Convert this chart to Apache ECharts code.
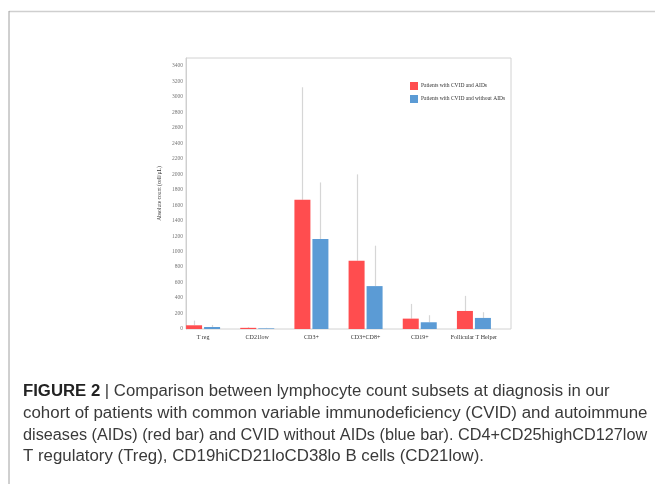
<!DOCTYPE html>
<html>
<head>
<meta charset="utf-8">
<script src="https://cdn.jsdelivr.net/npm/echarts@6/dist/echarts.min.js"></script>
<style>html,body{margin:0;padding:0;background:#fff;}#c{width:655px;height:484px;}</style>
</head>
<body>
<div id="c"></div>
<script>
var categories = ['T reg', 'CD21low', 'CD3+', 'CD3+CD8+', 'CD19+', 'Follicular T Helper'];
var seriesNames = ['Patients with CVID and AIDs', 'Patients with CVID and without AIDs'];
var aidsMean = [48, 15, 1669, 882, 134, 233];
var aidsUpper = [108, 25, 3122, 1997, 324, 428];
var noAidsMean = [26, 8, 1163, 554, 87, 143];
var noAidsUpper = [52, 15, 1893, 1076, 178, 217];
var yTicks = [0, 3500, 200];
var captionLines = [
  ['FIGURE 2', ' | Comparison between lymphocyte count subsets at diagnosis in our'],
  ['', 'cohort of patients with common variable immunodeficiency (CVID) and autoimmune'],
  ['', 'diseases (AIDs) (red bar) and CVID without AIDs (blue bar). CD4+CD25highCD127low'],
  ['', 'T regulatory (Treg), CD19hiCD21loCD38lo B cells (CD21low).']
];
var captionStretch = [1.046, 1.056, 1.015, 1.053];

var RED = '#FF4D4F', BLUE = '#5B9BD5';
var BW = 16, GAP = 2;
var serif = '"Liberation Serif", "DejaVu Serif", serif';
var sans = '"Liberation Sans", Arial, sans-serif';

function errSeries(upper, mean, sign) {
  return {
    type: 'custom', xAxisIndex: 0, yAxisIndex: 0, z: 1,
    data: categories.map(function (c, i) { return [i, mean[i], upper[i]]; }),
    renderItem: function (params, api) {
      var p0 = api.coord([api.value(0), api.value(1)]);
      var p1 = api.coord([api.value(0), api.value(2)]);
      var x = Math.round(p0[0] + sign * (BW + GAP) / 2) + 0.5;
      return { type: 'line', shape: { x1: x, y1: p0[1], x2: x, y2: p1[1] },
        style: { stroke: '#d6d6d6', lineWidth: 1.2 } };
    },
    silent: true, tooltip: { show: false }
  };
}

var graphics = [
  { type: 'line', shape: { x1: 9, y1: 11.5, x2: 655, y2: 11.5 }, style: { stroke: '#cfcfcf', lineWidth: 1.5 } },
  { type: 'line', shape: { x1: 9, y1: 11, x2: 9, y2: 484 }, style: { stroke: '#a0a0a0', lineWidth: 1 } }
];
captionLines.forEach(function (ln, i) {
  var y = 396.5 + i * 21.8;
  var rich = { b: { fontWeight: 'bold', fontSize: 16, fontFamily: sans, fill: '#222' },
               n: { fontSize: 16, fontFamily: sans, fill: '#3a3a3a' } };
  var txt = (ln[0] ? '{b|' + ln[0] + '}' : '') + '{n|' + ln[1] + '}';
  graphics.push({ type: 'text', x: 23, y: y - 13, scaleX: captionStretch[i], originX: 0,
    style: { text: txt, rich: rich, fill: '#3a3a3a' } });
});

var chart = echarts.init(document.getElementById('c'), null, { renderer: 'canvas' });
chart.setOption({
  backgroundColor: '#fff',
  animation: false,
  grid: [
    { left: 176, right: 154, top: 58, bottom: 155, show: false },
    { left: 186, right: 144, top: 58, bottom: 155, show: true, borderColor: '#d2d2d2', borderWidth: 1, z: 0 }
  ],
  legend: {
    orient: 'vertical', left: 405, top: 77, itemWidth: 8, itemHeight: 8, itemGap: 5,
    icon: 'rect', data: seriesNames,
    textStyle: { fontFamily: serif, fontSize: 5.5, color: '#333', padding: [0, 0, 0, -2] }
  },
  xAxis: [
    { type: 'category', gridIndex: 0, data: categories, boundaryGap: true,
      axisLine: { show: false }, axisTick: { show: false },
      axisLabel: { fontFamily: serif, fontSize: 6, color: '#333', margin: 5, interval: 0 } },
    { type: 'value', gridIndex: 1, show: false, min: 0, max: 1 }
  ],
  yAxis: [
    { type: 'value', gridIndex: 0, min: yTicks[0], max: yTicks[1], interval: yTicks[2], show: false },
    { type: 'value', gridIndex: 1, min: yTicks[0], max: yTicks[1], interval: yTicks[2],
      name: 'Absolute count (cell/µL)', nameLocation: 'middle', nameGap: 23,
      nameTextStyle: { fontFamily: serif, fontSize: 5.5, color: '#333' },
      axisLine: { show: true, lineStyle: { color: '#cfcfcf' } }, axisTick: { show: false },
      splitLine: { show: false },
      axisLabel: { fontFamily: serif, fontSize: 5.5, color: '#777', margin: 3, showMaxLabel: false,
        formatter: function (v) { return String(v); } } }
  ],
  series: [
    { name: seriesNames[0], type: 'bar', data: aidsMean, barWidth: BW, barGap: (GAP / BW * 100) + '%',
      itemStyle: { color: RED }, z: 2 },
    { name: seriesNames[1], type: 'bar', data: noAidsMean, barWidth: BW,
      itemStyle: { color: BLUE }, z: 2 },
    errSeries(aidsUpper, aidsMean, -1),
    errSeries(noAidsUpper, noAidsMean, 1)
  ],
  graphic: graphics
});
</script>
</body>
</html>
